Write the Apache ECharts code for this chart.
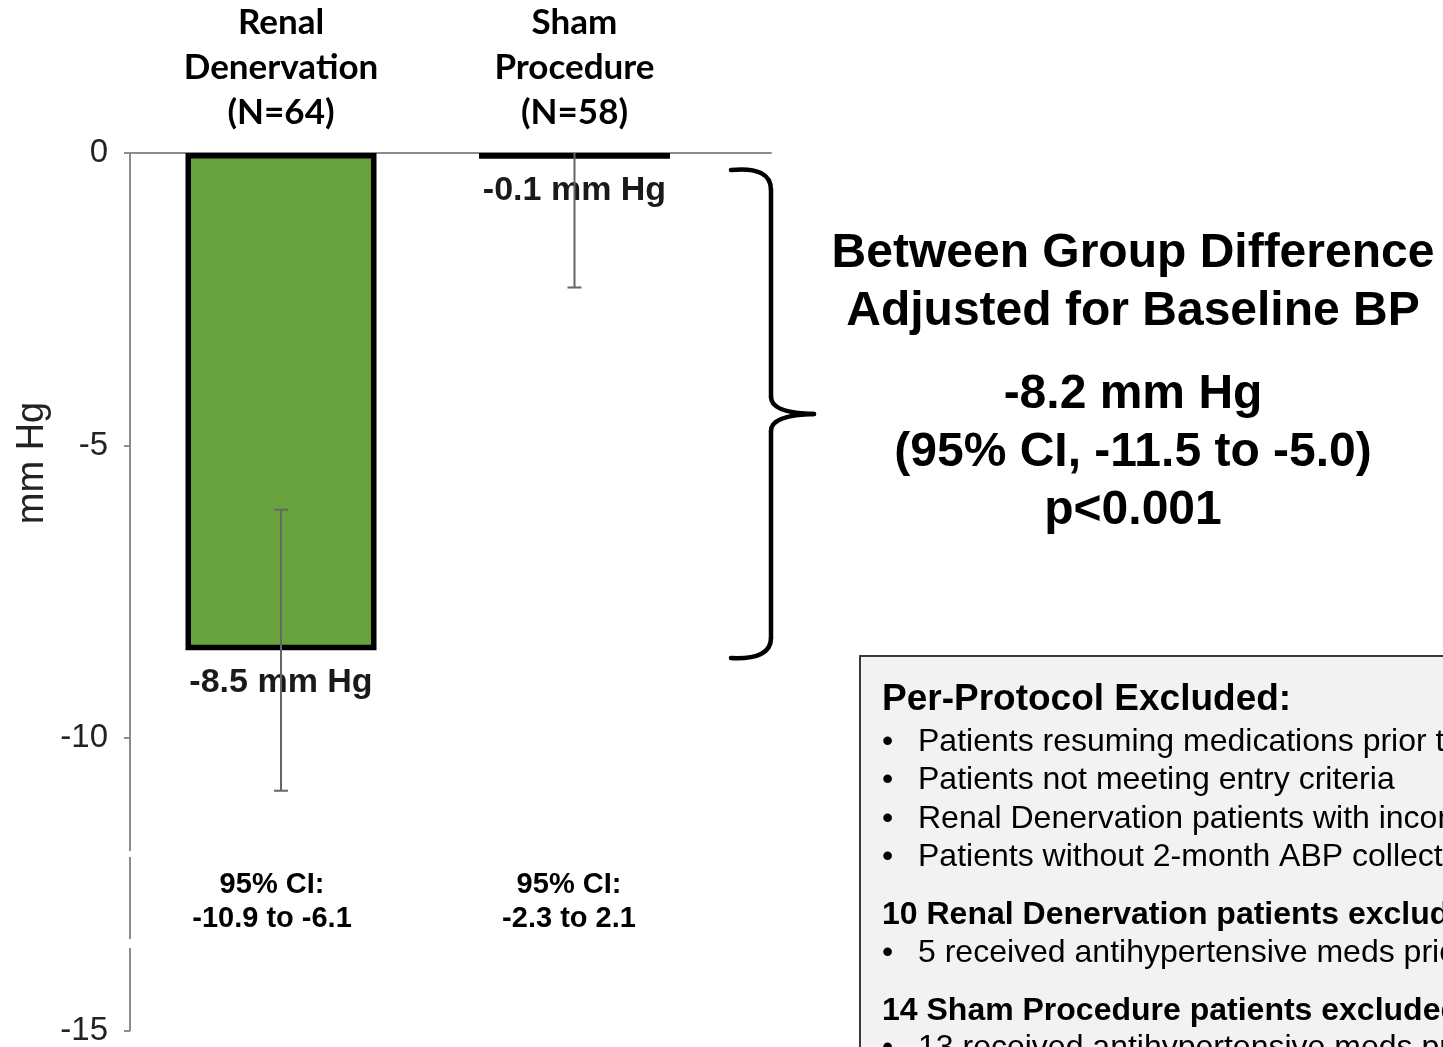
<!DOCTYPE html>
<html>
<head>
<meta charset="utf-8">
<script src="https://cdn.jsdelivr.net/npm/echarts@6/dist/echarts.min.js"></script>
<style>
  html, body { margin: 0; padding: 0; background: #fff; }
  #chart { width: 1443px; height: 1047px; }
</style>
</head>
<body>
<div id="chart"></div>
<script>
// Groups and their mean change in blood pressure (mm Hg)
const groups = ['Renal\nDenervation\n(N=64)', 'Sham\nProcedure\n(N=58)'];
const groupPos = [1, 2];
const meanChange = [-8.5, -0.1];
const ciLow = [-10.9, -2.3];
const ciHigh = [-6.1, 2.1];
const barColors = ['#67A23F', '#67A23F'];

const diffTitle = ['Between Group Difference', 'Adjusted for Baseline BP'];
const diffStats = ['-8.2 mm Hg', '(95% CI, -11.5 to -5.0)', 'p<0.001'];

const boxTitle = 'Per-Protocol Excluded:';
const boxBullets = [
  'Patients resuming medications prior to 2-month visit',
  'Patients not meeting entry criteria',
  'Renal Denervation patients with incomplete procedures',
  'Patients without 2-month ABP collection'
];
const rdnHead = '10 Renal Denervation patients excluded:';
const rdnBullets = ['5 received antihypertensive meds prior to 2 months'];
const shamHead = '14 Sham Procedure patients excluded:';
const shamBullets = ['13 received antihypertensive meds prior to 2 months'];

const chart = echarts.init(document.getElementById('chart'), null, { renderer: 'canvas' });

const ARIAL = 'Arial, "Liberation Sans", Helvetica, sans-serif';
const AXIS_GRAY = '#8c8c8c';

// plot area: left 130, right edge 771, top 149, bottom 1034
const gridLeft = 130, gridTop = 149, gridW = 641, gridH = 885;
// position scale: group 1 centred at x=281, spacing 293.5 px
const pxPerUnit = 293.5;
const xMin = 1 - (281 - gridLeft) / pxPerUnit;
const xMax = xMin + gridW / pxPerUnit;

const barData = groupPos.map((p, i) => ({
  value: [p, meanChange[i]],
  itemStyle: { color: barColors[i], borderColor: '#000', borderWidth: 5.5 }
}));
const errData = groupPos.map((p, i) => [p, ciLow[i], ciHigh[i]]);

const graphics = [];

// curly brace spanning the two group results
const braceStyle = { stroke: '#000', lineWidth: 4.5, fill: null, lineCap: 'round' };
graphics.push({
  type: 'group', z: 5,
  children: [
    { type: 'bezierCurve', shape: { x1: 731, y1: 170, cpx1: 771, cpy1: 166, x2: 771, y2: 190 }, style: braceStyle },
    { type: 'line', shape: { x1: 771, y1: 190, x2: 771, y2: 397 }, style: braceStyle },
    { type: 'bezierCurve', shape: { x1: 771, y1: 397, cpx1: 771, cpy1: 413, x2: 814, y2: 414 }, style: braceStyle },
    { type: 'bezierCurve', shape: { x1: 814, y1: 414, cpx1: 771, cpy1: 415, x2: 771, y2: 431 }, style: braceStyle },
    { type: 'line', shape: { x1: 771, y1: 431, x2: 771, y2: 638 }, style: braceStyle },
    { type: 'bezierCurve', shape: { x1: 771, y1: 638, cpx1: 771, cpy1: 660, x2: 731, y2: 658 }, style: braceStyle }
  ]
});

// between-group difference text
diffTitle.forEach((t, i) => {
  graphics.push({
    type: 'text', x: 1133, y: 254 + i * 58,
    style: { text: t, font: 'bold 48px ' + ARIAL, fill: '#000', align: 'center', verticalAlign: 'middle' }
  });
});
diffStats.forEach((t, i) => {
  graphics.push({
    type: 'text', x: 1133, y: 395 + i * 58,
    style: { text: t, font: 'bold 48px ' + ARIAL, fill: '#000', align: 'center', verticalAlign: 'middle' }
  });
});

// CI captions under each group
[272, 569].forEach((cx, i) => {
  graphics.push({
    type: 'text', x: cx, y: 902,
    style: {
      text: '95% CI:\n' + ciLow[i] + ' to ' + ciHigh[i],
      font: 'bold 29px ' + ARIAL, lineHeight: 34, fill: '#000',
      align: 'center', verticalAlign: 'middle'
    }
  });
});

// small white breaks in the vertical axis behind the caption box
graphics.push({ type: 'rect', shape: { x: 125, y: 851, width: 10, height: 6 }, style: { fill: '#fff' }, z: 10 });
graphics.push({ type: 'rect', shape: { x: 125, y: 939, width: 10, height: 9 }, style: { fill: '#fff' }, z: 10 });

// y axis title
graphics.push({
  type: 'text', x: 33, y: 463, rotation: Math.PI / 2,
  style: { text: 'mm Hg', font: '38px ' + ARIAL, fill: '#222', align: 'center', verticalAlign: 'middle' }
});

// exclusion box
graphics.push({
  type: 'rect', shape: { x: 860, y: 656, width: 620, height: 420 },
  style: { fill: '#f2f2f2', stroke: '#3a3a3a', lineWidth: 2 }, z: 1
});
const boxX = 882, bulletTextX = 918;
const boxLines = [
  { t: boxTitle, y: 700, bold: true, size: 37 },
  ...boxBullets.map((t, i) => ({ t, y: 742 + i * 38.5, bold: false, size: 32, bullet: true })),
  { t: rdnHead, y: 915, bold: true, size: 32 },
  ...rdnBullets.map((t, i) => ({ t, y: 953 + i * 38.5, bold: false, size: 32, bullet: true })),
  { t: shamHead, y: 1011, bold: true, size: 32 },
  ...shamBullets.map((t, i) => ({ t, y: 1048 + i * 38.5, bold: false, size: 32, bullet: true }))
];
boxLines.forEach(l => {
  const font = (l.bold ? 'bold ' : '') + l.size + 'px ' + ARIAL;
  if (l.bullet) {
    graphics.push({
      type: 'text', x: boxX, y: l.y, z: 2,
      style: { text: '•', font, fill: '#000', align: 'left', verticalAlign: 'middle' }
    });
  }
  graphics.push({
    type: 'text', x: l.bullet ? bulletTextX : boxX, y: l.y, z: 2,
    style: { text: l.t, font, fill: '#000', align: 'left', verticalAlign: 'middle' }
  });
});

const option = {
  backgroundColor: '#fff',
  animation: false,
  grid: { left: gridLeft, top: gridTop, width: gridW, height: gridH, containLabel: false },
  xAxis: {
    type: 'value',
    position: 'top',
    min: xMin, max: xMax,
    axisLine: { show: true, onZero: false, lineStyle: { color: AXIS_GRAY, width: 2 } },
    axisTick: { show: false },
    splitLine: { show: false },
    axisLabel: {
      show: true,
      customValues: groupPos,
      formatter: v => groups[groupPos.indexOf(Math.round(v))] || '',
      fontFamily: 'Lato, Carlito, Calibri, sans-serif',
      fontWeight: 'bold', fontSize: 35, lineHeight: 45, color: '#000',
      margin: 18, align: 'center', verticalAlign: 'bottom'
    }
  },
  yAxis: {
    type: 'value',
    min: -15, max: 0, interval: 5,
    axisLine: { show: true, lineStyle: { color: AXIS_GRAY, width: 2 } },
    axisTick: { show: true, inside: false, length: 6, lineStyle: { color: AXIS_GRAY, width: 2 } },
    splitLine: { show: false },
    axisLabel: {
      fontFamily: ARIAL, fontSize: 33, color: '#222', margin: 22,
      formatter: v => String(v)
    }
  },
  series: [
    {
      type: 'bar',
      data: barData,
      barWidth: 191,
      z: 2,
      label: {
        show: true,
        position: 'bottom',
        distance: 15,
        formatter: p => p.value[1] + ' mm Hg',
        fontFamily: ARIAL, fontWeight: 'bold', fontSize: 34, color: '#1a1a1a'
      }
    },
    {
      type: 'custom',
      clip: true,
      z: 20,
      data: errData,
      renderItem: (params, api) => {
        const x = api.value(0);
        const lo = api.coord([x, api.value(1)]);
        const hi = api.coord([x, api.value(2)]);
        const cap = 7;
        const style = { stroke: '#666', lineWidth: 2 };
        return {
          type: 'group',
          children: [
            { type: 'line', shape: { x1: lo[0], y1: lo[1], x2: hi[0], y2: hi[1] }, style },
            { type: 'line', shape: { x1: lo[0] - cap, y1: lo[1], x2: lo[0] + cap, y2: lo[1] }, style },
            { type: 'line', shape: { x1: hi[0] - cap, y1: hi[1], x2: hi[0] + cap, y2: hi[1] }, style }
          ]
        };
      }
    }
  ],
  graphic: graphics
};

chart.setOption(option);
</script>
</body>
</html>
